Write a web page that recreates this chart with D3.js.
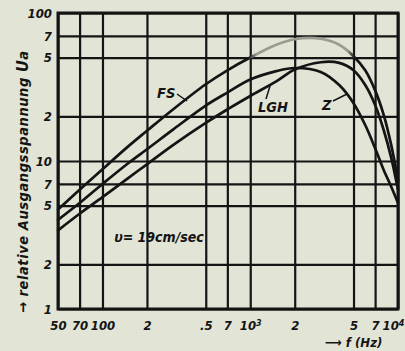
<!DOCTYPE html>
<html><head><meta charset="utf-8">
<script src="https://cdn.jsdelivr.net/npm/d3@7"></script>
<style>
html,body{margin:0;padding:0;background:#e2e4d6;overflow:hidden;}
svg{display:block;}
text{font-family:"DejaVu Sans Condensed","DejaVu Sans",sans-serif;font-weight:bold;font-style:italic;fill:#141414;}
</style></head><body>
<svg id="c" width="405" height="351"></svg>
<script>
// ---- data ----
const freqs      = [50, 70, 100, 150, 200, 300, 500, 700, 1000, 1500, 2000, 3000, 4000, 5000, 6000, 7000, 8000, 9000, 10000];
const fsValues   = [4.7, 6.4, 8.8, 12.6, 16.0, 22.3, 33, 41, 50, 61, 66.5, 67, 61, 51, 41, 30, 20.5, 12.8, 7.4];
const zValues    = [4.0, 5.2, 7.0, 9.7, 12.0, 16.3, 23.7, 29.0, 35.5, 40.5, 42.5, 40, 32.6, 24.6, 17.5, 12.2, 8.7, 6.7, 5.2];
const lghValues  = [3.4, 4.4, 5.7, 7.7, 9.5, 12.8, 18.1, 22.3, 27.5, 34.5, 41.5, 46.5, 46, 41, 32.6, 23.9, 16.2, 10.5, 6.4];
const xTickValues = [50, 70, 100, 200, 500, 700, 1000, 2000, 5000, 7000, 10000];
const xTickLabels = ["50", "70", "100", "2", ".5", "7", "10|3", "2", "5", "7", "10|4"];
const yTickValues = [1, 2, 5, 7, 10, 20, 50, 70, 100];
const yTickLabels = ["1", "2", "5", "7", "10", "2", "5", "7", "100"];

// ---- layout ----
const W = 405, H = 351;
const L = 58, R = 398, T = 13, B = 309;
const svg = d3.select("#c");
const x = d3.scaleLog().domain([50, 10000]).range([L, R]);
const y = d3.scaleLog().domain([1, 100]).range([B, T]);
const ink = "#141414";

// grid via axes
const gx = svg.append("g").attr("transform", `translate(0,${B})`)
  .call(d3.axisBottom(x).tickValues(xTickValues).tickFormat((d, i) => xTickLabels[i])
    .tickSize(-(B - T)).tickPadding(12));
const gy = svg.append("g").attr("transform", `translate(${L},0)`)
  .call(d3.axisLeft(y).tickValues(yTickValues).tickFormat((d, i) => yTickLabels[i])
    .tickSize(-(R - L)).tickPadding(6));
[gx, gy].forEach(g => {
  g.select(".domain").remove();
  g.selectAll(".tick line").attr("stroke", ink).attr("stroke-width", 2.2);
  g.selectAll(".tick text").attr("fill", ink).style("font-size", "13px");
});
gx.selectAll(".tick text").each(function (d) {
  const t = d3.select(this), s = t.text();
  if (s.includes("|")) {
    const [a, b] = s.split("|");
    t.text(a);
    t.append("tspan").attr("dy", "-0.45em").style("font-size", "9px").text(b);
    if (d === 10000) t.attr("text-anchor", "end").attr("x", W - 1 - x(d) + 0);
  }
});
svg.append("rect").attr("x", L).attr("y", T).attr("width", R - L).attr("height", B - T)
  .attr("fill", "none").attr("stroke", ink).attr("stroke-width", 3);

// FS faded mid-section gradient
const defs = svg.append("defs");
const grad = defs.append("linearGradient").attr("id", "fsg")
  .attr("gradientUnits", "userSpaceOnUse").attr("x1", 0).attr("x2", W).attr("y1", 0).attr("y2", 0);
const o1 = x(1000) / W, o2 = x(5000) / W, fade = "#9a9c92";
[[0, ink], [o1 - 0.005, ink], [o1 + 0.015, fade], [o2 - 0.015, fade], [o2 + 0.003, ink], [1, ink]]
  .forEach(([o, c]) => grad.append("stop").attr("offset", o).attr("stop-color", c));

const line = d3.line().x(d => x(d[0])).y(d => y(d[1])).curve(d3.curveCatmullRom.alpha(0.5));
const series = [
  { name: "FS", vals: fsValues, stroke: "url(#fsg)" },
  { name: "Z", vals: zValues, stroke: ink },
  { name: "LGH", vals: lghValues, stroke: ink }
];
series.forEach(s => {
  svg.append("path").datum(freqs.map((f, i) => [f, s.vals[i]]))
    .attr("d", line).attr("fill", "none").attr("stroke", s.stroke)
    .attr("stroke-width", 2.7).attr("stroke-linecap", "round");
});

// curve labels with leader lines
const ann = [
  { t: "FS", tx: 157, ty: 98, lx1: 177, ly1: 94, lx2: 187, ly2: 101 },
  { t: "LGH", tx: 258, ty: 112, lx1: 266, ly1: 99, lx2: 270, ly2: 86 },
  { t: "Z", tx: 322, ty: 110, lx1: 333, ly1: 101, lx2: 347, ly2: 94 }
];
ann.forEach(a => {
  svg.append("text").attr("x", a.tx).attr("y", a.ty).style("font-size", "14.5px").text(a.t);
  svg.append("line").attr("x1", a.lx1).attr("y1", a.ly1).attr("x2", a.lx2).attr("y2", a.ly2)
    .attr("stroke", ink).attr("stroke-width", 1.5);
});

svg.append("text").attr("x", 159).attr("y", 242).attr("text-anchor", "middle")
  .style("font-size", "14px").text("υ= 19cm/sec");

// axis titles
const yt = svg.append("text").attr("transform", "translate(28,313) rotate(-90)")
  .style("font-size", "14.5px").attr("textLength", 262).attr("lengthAdjust", "spacing");
yt.append("tspan").text("→ relative Ausgangsspannung  ");
yt.append("tspan").style("font-size", "16px").text("U");
yt.append("tspan").text("a");

svg.append("text").attr("x", 325).attr("y", 347).style("font-size", "13px").text("⟶ f (Hz)");
</script>
</body></html>
